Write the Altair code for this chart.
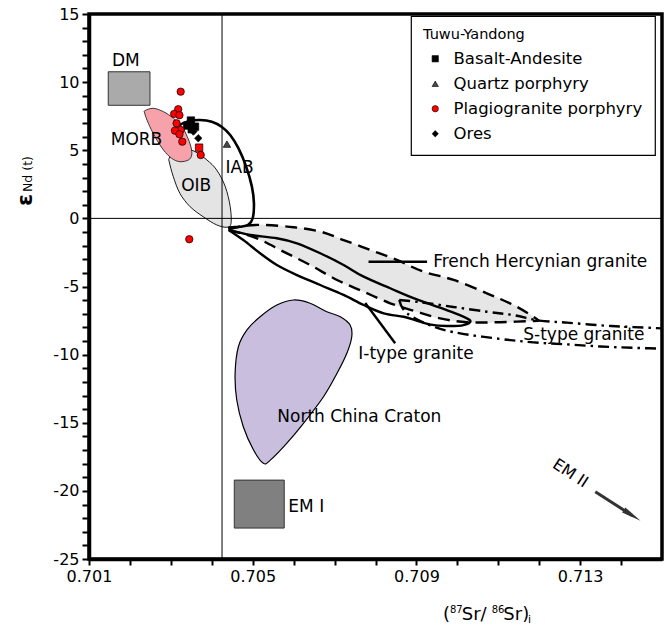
import altair as alt
import pandas as pd

# ---------------- axes ----------------
X_DOMAIN = [0.701, 0.715]
Y_DOMAIN = [-25, 15]
X_TICK_VALUES = [0.701, 0.702, 0.703, 0.704, 0.705, 0.706, 0.707, 0.708,
                 0.709, 0.710, 0.711, 0.712, 0.713, 0.714]
Y_TICK_VALUES = list(range(-25, 16))
X_MAJOR_TEST = "abs(round(datum.value * 1000) - 701) % 4 === 0"
Y_MAJOR_TEST = "datum.value % 5 === 0"

# ---------------- reference lines ----------------
BSE_SR = [0.70425]
CHUR_ND = [0]

# ---------------- sample points (Tuwu-Yandong) ----------------
TYPES = ["Basalt-Andesite", "Quartz porphyry", "Plagiogranite porphyry", "Ores"]
TYPE_SHAPES = ["square", "triangle-up", "circle", "diamond"]
TYPE_COLORS = ["#000000", "#4a4a4a", "#ff0000", "#000000"]

BA_X = [0.70349, 0.70340, 0.70359, 0.70351]
BA_Y = [7.18, 6.81, 6.73, 6.54]
QP_X = [0.70437]
QP_Y = [5.45]
PP_X = [0.70324, 0.70318, 0.70308, 0.70321, 0.70314, 0.70324, 0.70310,
        0.70321, 0.70328, 0.70373, 0.70345]
PP_Y = [9.30, 8.01, 7.67, 7.57, 6.98, 6.49, 6.44, 6.17, 5.63, 4.65, -1.53]
ORE_X = [0.70355, 0.70367]
ORE_Y = [6.37, 5.88]
RED_SQ_X = [0.70369]
RED_SQ_Y = [5.19]

# ---------------- reservoir fields ----------------
MORB_X = [0.70237, 0.70257, 0.70282, 0.70306, 0.70327, 0.70340, 0.70349, 0.70351,
          0.70343, 0.70322, 0.70302, 0.70282, 0.70261, 0.70245, 0.70236]
MORB_Y = [7.91, 8.08, 7.83, 7.35, 6.73, 6.00, 5.26, 4.65, 4.29, 4.16, 4.41, 5.02,
          6.00, 6.98, 7.72]

OIB_X = [0.70296, 0.70306, 0.70322, 0.70347, 0.70379, 0.70412, 0.70437, 0.70447,
         0.70445, 0.70433, 0.70412, 0.70388, 0.70359, 0.70331, 0.70306, 0.70296]
OIB_Y = [4.16, 3.06, 1.84, 0.86, 0.12, -0.48, -0.65, -0.36, 0.86, 2.33, 3.55, 4.29,
         4.90, 5.15, 4.90, 4.41]

IAB_X = [0.70321, 0.70343, 0.70371, 0.70400, 0.70424, 0.70445, 0.70465, 0.70484,
         0.70498, 0.70503, 0.70500, 0.70489, 0.70469, 0.70448, 0.70440]
IAB_Y = [6.86, 7.13, 7.22, 7.10, 6.73, 6.12, 5.15, 3.80, 2.33, 1.11, 0.01, -0.48,
         -0.61, -0.66, -0.72]

NCC_X = [0.70526, 0.70502, 0.70477, 0.70461, 0.70457, 0.70465, 0.70486, 0.70518,
         0.70559, 0.70600, 0.70640, 0.70681, 0.70714, 0.70738, 0.70742, 0.70730,
         0.70706, 0.70673, 0.70624, 0.70583, 0.70543]
NCC_Y = [-17.98, -17.00, -15.29, -13.33, -11.37, -9.42, -8.19, -7.22, -6.36, -5.99,
         -6.23, -6.85, -7.22, -7.83, -8.69, -9.90, -11.37, -13.09, -15.04, -16.51,
         -17.74]

# French Hercynian granite (upper and lower dashed bounds)
FH_TOP_X = [0.70441, 0.70477, 0.70526, 0.70600, 0.70665, 0.70722, 0.70787, 0.70852,
            0.70917, 0.70991, 0.71072, 0.71137, 0.71186, 0.71199]
FH_TOP_Y = [-0.80, -0.56, -0.48, -0.65, -0.97, -1.59, -2.32, -3.05, -3.91, -4.52,
            -5.50, -6.36, -7.22, -7.51]
FH_LOW_X = [0.70441, 0.70510, 0.70575, 0.70640, 0.70706, 0.70771, 0.70836, 0.70901,
            0.70958, 0.71023, 0.71105, 0.71199]
FH_LOW_Y = [-0.85, -1.46, -2.44, -3.42, -4.52, -5.38, -6.23, -6.85, -7.34, -7.62,
            -7.62, -7.51]

# I-type granite (closed loop, solid)
ITYPE_X = [0.70441, 0.70494, 0.70559, 0.70608, 0.70665, 0.70722, 0.70771, 0.70836,
           0.70901, 0.70974, 0.71030, 0.71015, 0.70974, 0.70935, 0.70900, 0.70869,
           0.70820, 0.70771, 0.70722, 0.70665, 0.70608, 0.70559, 0.70518, 0.70477,
           0.70441]
ITYPE_Y = [-0.85, -1.22, -1.46, -1.83, -2.56, -3.42, -4.28, -5.13, -5.95, -6.73,
           -7.46, -7.83, -7.90, -7.80, -7.50, -7.22, -6.97, -6.36, -5.62, -4.89,
           -4.16, -3.42, -2.56, -1.59, -0.85]

# S-type granite (dash-dot, runs off the right edge)
ST_TOP_X = [0.70858, 0.70909, 0.70990, 0.71072, 0.71137, 0.71200, 0.71268, 0.71349,
            0.71430, 0.71520]
ST_TOP_Y = [-5.99, -6.15, -6.50, -6.85, -7.10, -7.50, -7.65, -7.85, -7.98, -8.10]
ST_BOT_X = [0.70858, 0.70877, 0.70942, 0.71007, 0.71105, 0.71186, 0.71268, 0.71349,
            0.71430, 0.71520]
ST_BOT_Y = [-5.99, -6.97, -7.95, -8.44, -8.85, -9.10, -9.25, -9.40, -9.50, -9.58]

# boxes
DM_BOX = [0.70147, 0.70249, 8.3, 10.76]
EM1_BOX = [0.70455, 0.70577, -19.21, -22.73]

# leader lines and EM II arrow
FH_LEADER_X = [0.70783, 0.70926]
FH_LEADER_Y = [-3.18, -3.18]
IT_LEADER_X = [0.70775, 0.70848]
IT_LEADER_Y = [-6.21, -9.17]
EM2_SHAFT_X = [0.71337, 0.71427]
EM2_SHAFT_Y = [-20.07, -21.80]
EM2_HEAD_X = [0.71427]
EM2_HEAD_Y = [-21.80]

# labels
C_LABELS = ["DM", "MORB", "OIB", "IAB"]
C_X = [0.70190, 0.70216, 0.70362, 0.70468]
C_Y = [11.52, 5.76, 2.38, 3.68]
L_LABELS = ["North China Craton", "EM I", "French Hercynian granite",
            "S-type granite", "I-type granite"]
L_X = [0.70560, 0.70587, 0.70941, 0.71161, 0.70758]
L_Y = [-14.6, -21.17, -3.18, -8.56, -9.96]
EM2_LABEL = ["EM II"]
EM2_LABEL_X = [0.71276]
EM2_LABEL_Y = [-18.71]

FONT = "DejaVu Sans"
PLOT_W, PLOT_H = 573, 545
XS = alt.Scale(domain=X_DOMAIN, nice=False, zero=False)
YS = alt.Scale(domain=Y_DOMAIN, nice=False, zero=False)


def make_axes(inward):
    """Shared axes: labels on the major values only; minor ticks every step.
    With inward=True the ticks start 7 px inside the frame and only the
    major ones continue outward."""
    xkw = dict(
        orient="bottom", values=X_TICK_VALUES, title=None,
        labelExpr=f"{X_MAJOR_TEST} ? format(datum.value, '.3f') : ''",
        tickSize=8, tickWidth=2, tickColor="black", domainWidth=3.5,
        domainColor="black", labelFont=FONT, labelFontSize=16, labelColor="black",
        labelPadding=3, grid=False, labelFlush=False, labelOverlap=False)
    ykw = dict(
        orient="left", values=Y_TICK_VALUES, title=None,
        labelExpr=f"{Y_MAJOR_TEST} ? '' + datum.value : ''",
        tickSize=11, tickWidth=2, tickColor="black", domainWidth=3.5,
        domainColor="black", labelFont=FONT, labelFontSize=16, labelColor="black",
        labelPadding=3, grid=False, labelFlush=False, labelOverlap=False)
    if inward:
        xkw["encode"] = {"ticks": {
            "y": {"value": -7},
            "y2": {"value": {"expr": f"{X_MAJOR_TEST} ? 8 : 0"}}}}
        ykw["encode"] = {"ticks": {
            "x": {"value": 7},
            "x2": {"value": {"expr": f"{Y_MAJOR_TEST} ? -11 : 0"}}}}
    else:
        xkw["tickSize"] = 6
        ykw["tickSize"] = 7
    return alt.Axis(**xkw), alt.Axis(**ykw)


def build(inward):
    XA, YA = make_axes(inward)

    def xe(field="x"):
        return alt.X(f"{field}:Q", scale=XS, axis=XA, title=None)

    def ye(field="y"):
        return alt.Y(f"{field}:Q", scale=YS, axis=YA, title=None)

    def path_df(xs, ys):
        return pd.DataFrame({"x": xs, "y": ys, "i": list(range(len(xs)))})

    def path(xs, ys, **mark):
        return alt.Chart(path_df(xs, ys)).mark_line(**mark).encode(
            x=xe(), y=ye(), order="i:Q")

    def box(b, **mark):
        df = pd.DataFrame({"x1": [b[0]], "x2": [b[1]], "y1": [b[2]], "y2": [b[3]]})
        return alt.Chart(df).mark_rect(**mark).encode(
            x=xe("x1"), x2="x2:Q", y=ye("y1"), y2="y2:Q")

    layers = []
    # French Hercynian gray field
    layers.append(path(FH_TOP_X + FH_LOW_X[::-1], FH_TOP_Y + FH_LOW_Y[::-1],
                       interpolate="cardinal", fill="#e6e6e6", stroke="#e6e6e6",
                       strokeWidth=0.5))
    # North China Craton, OIB, MORB
    layers.append(path(NCC_X, NCC_Y, interpolate="cardinal-closed", fill="#c9bedd",
                       stroke="black", strokeWidth=1.2))
    layers.append(path(OIB_X, OIB_Y, interpolate="cardinal-closed", fill="#e4e4e4",
                       stroke="black", strokeWidth=0.9))
    layers.append(path(MORB_X, MORB_Y, interpolate="cardinal-closed", fill="#f7a1aa",
                       stroke="#222222", strokeWidth=0.9))
    # DM and EM I boxes
    layers.append(box(DM_BOX, fill="#aaaaaa", stroke="#333333", strokeWidth=1))
    layers.append(box(EM1_BOX, fill="#808080", stroke="#333333", strokeWidth=1))
    # reference lines
    layers.append(alt.Chart(pd.DataFrame({"x": BSE_SR})).mark_rule(
        color="black", strokeWidth=1).encode(x=xe()))
    layers.append(alt.Chart(pd.DataFrame({"y": CHUR_ND})).mark_rule(
        color="black", strokeWidth=1).encode(y=ye()))
    # IAB field
    layers.append(path(IAB_X, IAB_Y, interpolate="cardinal", stroke="black",
                       strokeWidth=2.6))
    # granite curves
    dash = [12, 7]
    dashdot = [11, 5, 2.5, 5]
    layers.append(path(FH_TOP_X, FH_TOP_Y, interpolate="cardinal", stroke="black",
                       strokeWidth=2.4, strokeDash=dash))
    layers.append(path(FH_LOW_X, FH_LOW_Y, interpolate="cardinal", stroke="black",
                       strokeWidth=2.4, strokeDash=dash))
    layers.append(path(ITYPE_X, ITYPE_Y, interpolate="cardinal", stroke="black",
                       strokeWidth=2.4))
    layers.append(path(ST_TOP_X, ST_TOP_Y, interpolate="cardinal", stroke="black",
                       strokeWidth=2.4, strokeDash=dashdot, clip=True))
    layers.append(path(ST_BOT_X, ST_BOT_Y, interpolate="cardinal", stroke="black",
                       strokeWidth=2.4, strokeDash=dashdot, clip=True))
    # leaders
    layers.append(path(FH_LEADER_X, FH_LEADER_Y, stroke="black", strokeWidth=2.4))
    layers.append(path(IT_LEADER_X, IT_LEADER_Y, stroke="black", strokeWidth=2.4))
    # EM II arrow
    layers.append(path(EM2_SHAFT_X, EM2_SHAFT_Y, stroke="#333333", strokeWidth=3))
    layers.append(alt.Chart(path_df(EM2_HEAD_X, EM2_HEAD_Y)).mark_point(
        shape="M-1,-0.3L1,0L-1,0.3Z", angle=33, size=400, filled=True,
        color="#333333", opacity=1).encode(x=xe(), y=ye()))

    # sample points
    pts = pd.DataFrame({
        "x": BA_X + QP_X + PP_X + ORE_X,
        "y": BA_Y + QP_Y + PP_Y + ORE_Y,
        "type": [TYPES[0]] * len(BA_X) + [TYPES[1]] * len(QP_X)
        + [TYPES[2]] * len(PP_X) + [TYPES[3]] * len(ORE_X),
    })
    leg = alt.Legend(
        title="Tuwu-Yandong", orient="none", legendX=322, legendY=2, padding=12,
        strokeColor="black", fillColor="white",
        titleFont=FONT, titleFontSize=14.5, titleFontWeight="normal",
        titleColor="black", titlePadding=8, labelFont=FONT, labelFontSize=16.5,
        labelColor="black", labelLimit=400, symbolSize=40, symbolOffset=4,
        labelOffset=10, rowPadding=8, symbolStrokeColor="black",
        symbolStrokeWidth=0.6)
    layers.append(alt.Chart(pts).mark_point(
        filled=True, size=55, stroke="black", strokeWidth=0.7, opacity=1).encode(
        x=xe(), y=ye(),
        shape=alt.Shape("type:N", scale=alt.Scale(domain=TYPES, range=TYPE_SHAPES),
                        legend=leg),
        color=alt.Color("type:N", scale=alt.Scale(domain=TYPES, range=TYPE_COLORS),
                        legend=leg)))
    layers.append(alt.Chart(path_df(RED_SQ_X, RED_SQ_Y)).mark_point(
        shape="square", filled=True, size=55, fill="#ff0000", stroke="black",
        strokeWidth=0.7, opacity=1).encode(x=xe(), y=ye()))

    # labels
    layers.append(alt.Chart(pd.DataFrame({"x": C_X, "y": C_Y, "t": C_LABELS})).mark_text(
        font=FONT, fontSize=17, align="center", baseline="middle",
        color="black").encode(x=xe(), y=ye(), text="t:N"))
    layers.append(alt.Chart(pd.DataFrame({"x": L_X, "y": L_Y, "t": L_LABELS})).mark_text(
        font=FONT, fontSize=17, align="left", baseline="middle",
        color="black").encode(x=xe(), y=ye(), text="t:N"))
    layers.append(alt.Chart(pd.DataFrame({"x": EM2_LABEL_X, "y": EM2_LABEL_Y,
                                          "t": EM2_LABEL})).mark_text(
        font=FONT, fontSize=16, align="center", baseline="middle", angle=33,
        color="black").encode(x=xe(), y=ye(), text="t:N"))

    # axis titles built from pieces (superscripts / subscripts)
    def piece(text, px, py, size, angle=0, weight="normal"):
        return alt.Chart(pd.DataFrame({"t": [text]})).mark_text(
            font=FONT, fontSize=size, fontWeight=weight, align="left",
            baseline="alphabetic", angle=angle, color="black").encode(
            x=alt.value(px), y=alt.value(py), text="t:N")

    layers.append(piece("ε", -57, 192, 22, angle=270, weight="bold"))
    layers.append(piece("Nd (t)", -57, 178, 12.5, angle=270))
    layers.append(piece("(", 354, 606, 18))
    layers.append(piece("87", 361, 599, 10))
    layers.append(piece("Sr/", 372.7, 606, 18))
    layers.append(piece("86", 402.7, 599, 10))
    layers.append(piece("Sr)", 414.3, 606, 18))
    layers.append(piece("i", 439, 609, 11))

    return alt.layer(*layers).properties(
        width=PLOT_W, height=PLOT_H,
        autosize=alt.AutoSizeParams(type="none"),
        padding={"left": 89, "top": 14, "right": 3, "bottom": 70},
    ).configure(font=FONT).configure_view(
        stroke="black", strokeWidth=3.5, fill="white"
    ).configure_legend(strokeWidth=1.2)


try:
    chart = build(inward=True)
    chart.save("out.html", embed_options={"renderer": "svg", "actions": False})
except Exception:
    chart = build(inward=False)
    chart.save("out.html", embed_options={"renderer": "svg", "actions": False})
